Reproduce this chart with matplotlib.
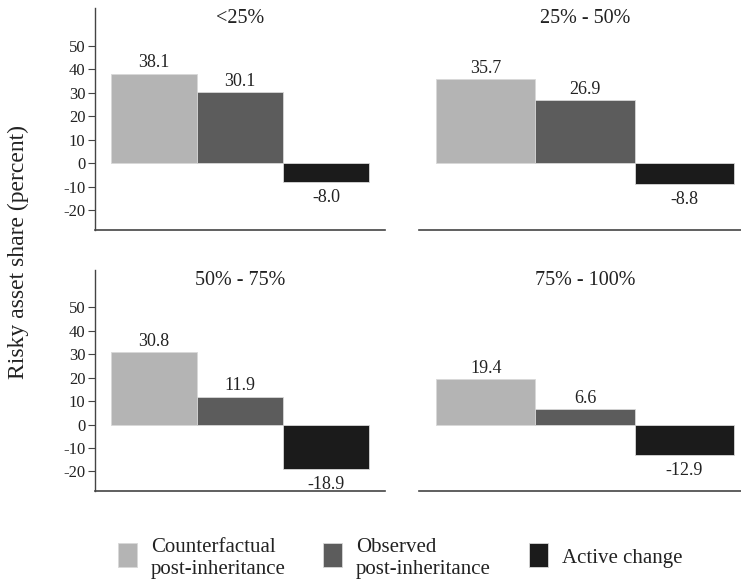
import matplotlib
matplotlib.use("Agg")
import matplotlib.pyplot as plt
from matplotlib.patches import Rectangle

plt.rcParams['font.family'] = ['Liberation Serif', 'DejaVu Serif']

panels = ["<25%", "25% - 50%", "50% - 75%", "75% - 100%"]
series = ["Counterfactual\npost-inheritance", "Observed\npost-inheritance", "Active change"]
counterfactual = [38.1, 35.7, 30.8, 19.4]
observed = [30.1, 26.9, 11.9, 6.6]
active = [-8.0, -8.8, -18.9, -12.9]
yticks = [-20, -10, 0, 10, 20, 30, 40, 50]

colors = ["#b4b4b4", "#5c5c5c", "#1b1b1b"]

W, H = 741, 583
fig = plt.figure(figsize=(W / 100, H / 100), dpi=100)

def ax_rect(x0, y0, x1, y1):
    return [x0 / W, 1 - y1 / H, (x1 - x0) / W, (y1 - y0) / H]

rects = [ax_rect(95, 8, 385, 230), ax_rect(419, 8, 751, 230),
         ax_rect(95, 270, 385, 491), ax_rect(419, 270, 751, 491)]
xlims = [(-0.686, 2.686), (-0.671, 2.671), (-0.686, 2.686), (-0.671, 2.671)]

for i, name in enumerate(panels):
    ax = fig.add_axes(rects[i])
    vals = [counterfactual[i], observed[i], active[i]]
    for j, v in enumerate(vals):
        ax.bar(j, v, width=1.0, color=colors[j], edgecolor="#d8d8d8", linewidth=0.6)
        if v >= 0:
            ax.text(j, v + 1.0, f"{v:.1f}", ha="center", va="bottom", fontsize=13, color="#222222")
        else:
            ax.text(j, v - 3.0, f"{v:.1f}", ha="center", va="top", fontsize=13, color="#222222")
    ax.set_ylim(-28.4, 66)
    ax.set_xlim(*xlims[i])
    ax.set_xticks([])
    ax.text(0.5, 0.952, name, transform=ax.transAxes, ha="center", va="center", fontsize=14.5, color="#222222")
    for s in ["top", "right"]:
        ax.spines[s].set_visible(False)
    ax.spines["bottom"].set_color("#444444")
    ax.spines["bottom"].set_linewidth(1.2)
    if i % 2 == 0:
        ax.spines["left"].set_color("#444444")
        ax.spines["left"].set_linewidth(1.0)
        ax.set_yticks(yticks)
        ax.set_yticklabels([str(t) for t in yticks], fontsize=12, color="#222222")
        ax.tick_params(axis="y", length=5, width=0.8, color="#444444", pad=2)
    else:
        ax.spines["left"].set_visible(False)
        ax.set_yticks([])

fig.text(18 / W, 1 - 252 / H, "Risky asset share (percent)", rotation=90,
         ha="center", va="center", fontsize=17, color="#222222")

# legend
lx = [118, 323, 529]
for j, label in enumerate(series):
    fig.add_artist(Rectangle((lx[j] / W, 1 - 567 / H), 19 / W, 24 / H,
                             transform=fig.transFigure, facecolor=colors[j],
                             edgecolor="#d8d8d8", linewidth=0.6))
    lines = label.split("\n")
    baselines = [552, 574] if len(lines) == 2 else [563]
    for line, yb in zip(lines, baselines):
        fig.text((lx[j] + 33) / W, 1 - yb / H, line, ha="left", va="baseline",
                 fontsize=15, color="#222222")

fig.savefig("out.png", dpi=100)
